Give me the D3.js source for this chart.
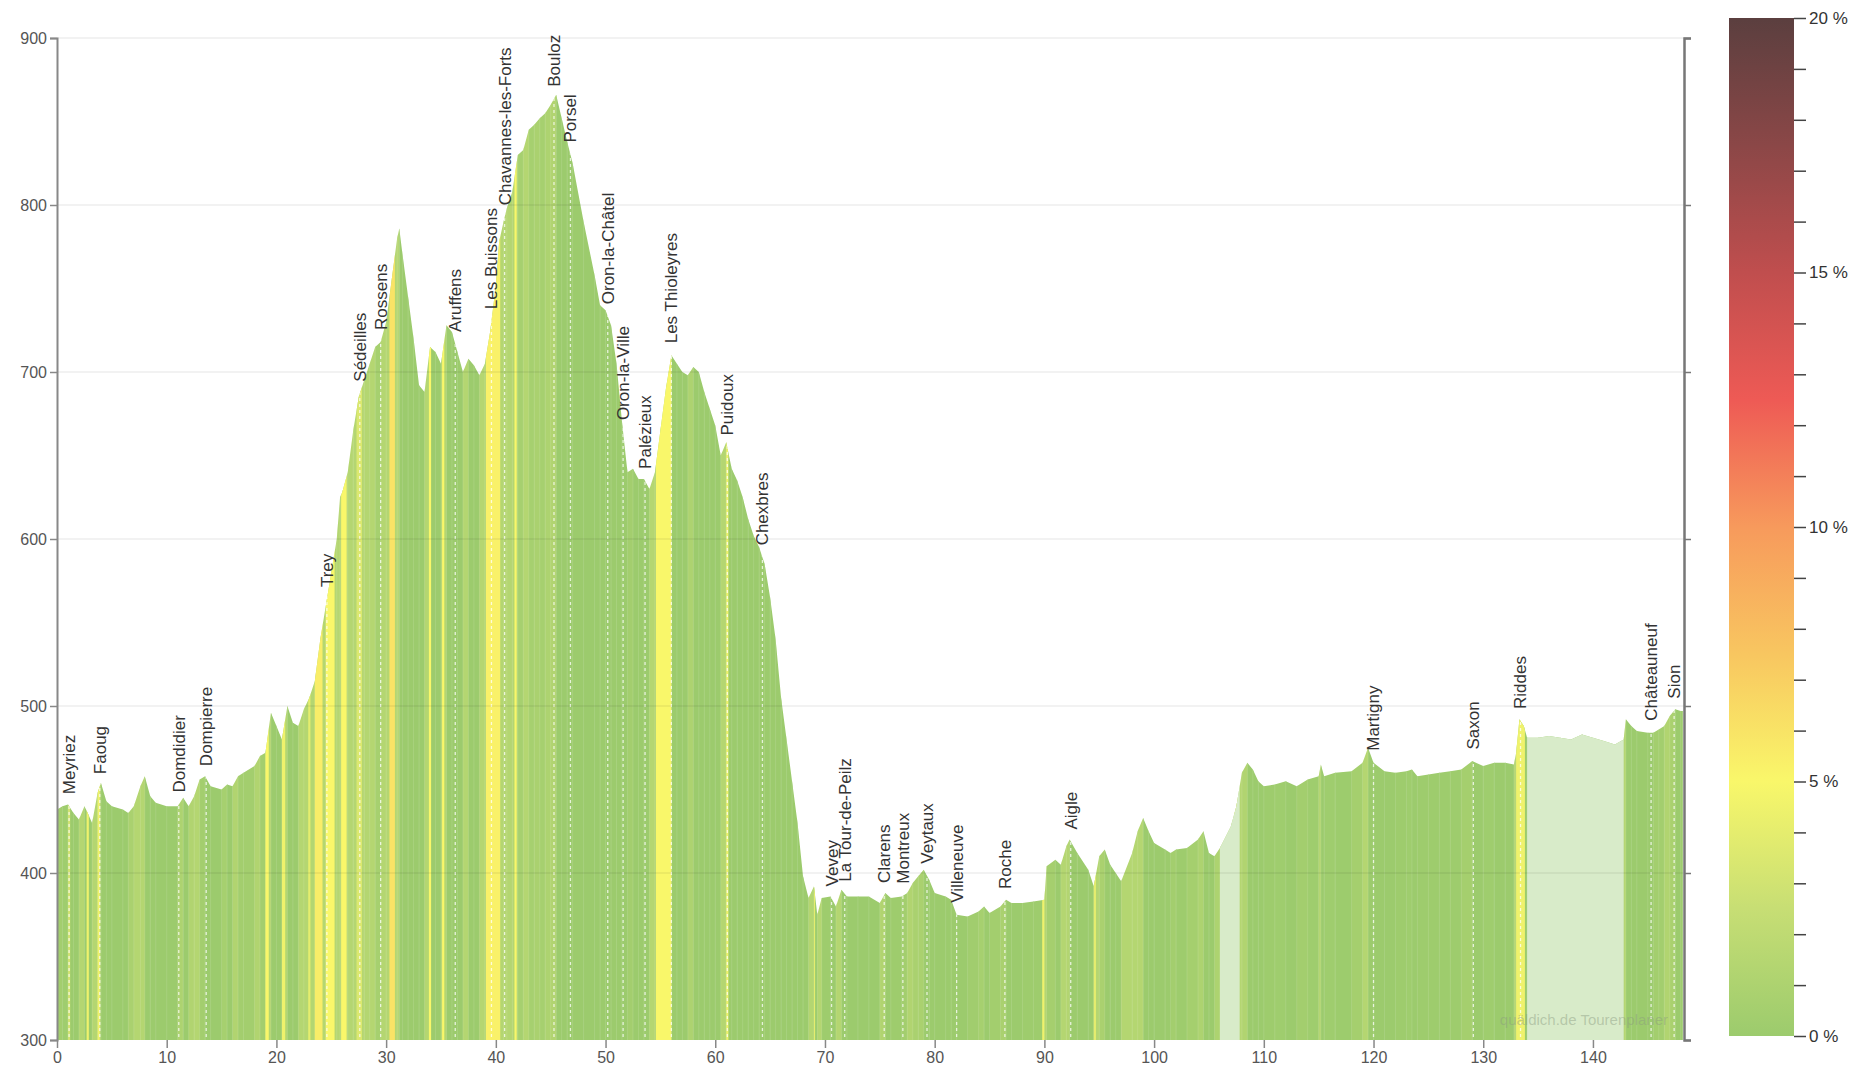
<html>
<head>
<meta charset="utf-8">
<script src="https://d3js.org/d3.v7.min.js"></script>
<style>
body { margin: 0; background: white; }
.tick text { font-family: "Liberation Sans", Arial, sans-serif; font-size: 16px; fill: #555; }
.place { font-family: "Liberation Sans", Arial, sans-serif; font-size: 17px; fill: #333; }
</style>
</head>
<body>
<svg id="chart" width="1856" height="1075"></svg>
<script>
// distance (km) and elevation (m)
var dist = [0,0.5,1,1.5,2,2.5,2.8,3.2,3.7,4,4.5,5,6,6.5,7,7.6,8,8.5,9,10,11,11.5,12,12.5,13,13.5,14,15,15.5,16,16.5,17,18,18.5,19,19.5,20,20.5,21,21.5,22,22.5,23,23.5,24,24.5,25,25.5,25.8,26,26.5,27,27.5,28,28.5,29,29.5,30,30.5,31,31.2,31.5,32,32.5,33,33.5,34,34.5,35,35.5,36,36.5,37,37.5,38,38.5,39,39.5,40,40.3,40.7,41,41.5,42,42.5,43,43.5,44,44.5,45,45.5,46,46.5,47,48,49,49.5,50,50.5,51,51.5,52,52.5,53,53.5,54,54.5,55,55.5,56,56.5,57,57.5,58,58.5,59,59.5,60,60.5,61,61.5,62,62.5,63,63.5,64,64.5,65,65.5,66,66.5,67,67.5,68,68.5,69,69.3,69.7,70.5,71,71.5,72,73,74,75,75.5,76,77,77.5,78,78.5,79,79.5,80,81,81.5,82,83,84,84.5,85,86,86.5,87,88,89,90,90.2,91,91.5,92,92.3,93,94,94.5,95,95.5,96,96.5,97,98,98.5,99,99.5,100,101,101.5,102,103,104,104.5,105,105.5,106,107,107.5,108,108.5,109,109.5,110,111,112,113,114,115,115.2,115.5,116.5,118,119,119.5,120,121,122,123,123.5,124,125,126,127,128,129,130,131,132,132.8,133,133.3,133.7,134,135,136,137,138,139,140,141,142,142.8,143,143.5,144,145,145.5,146,146.5,147,147.5,148,148.2];
var elev = [438,440,441,436,432,440,436,430,448,454,443,440,438,436,440,452,458,446,442,440,440,445,440,446,456,458,452,450,453,452,458,460,464,470,472,496,488,480,500,490,488,498,505,515,540,560,580,600,625,628,640,665,685,695,705,715,718,730,755,780,786,770,745,720,692,688,715,712,705,728,724,712,700,708,704,698,705,725,752,778,790,798,808,830,833,845,848,852,855,860,866,852,838,825,790,758,740,737,728,705,670,640,642,636,636,630,640,665,690,710,705,700,698,703,700,688,678,668,650,658,642,635,625,612,602,595,585,565,540,505,480,455,430,398,385,392,375,385,386,380,390,386,386,386,382,388,385,386,388,394,398,402,396,388,386,384,375,374,377,380,376,380,384,382,382,383,384,404,408,405,416,420,412,402,392,410,414,405,400,395,412,425,433,425,418,414,412,414,415,420,425,412,410,415,428,440,460,466,462,455,452,453,455,452,456,458,465,458,460,461,466,475,466,461,460,461,462,458,459,460,461,462,467,464,466,466,465,472,492,488,481,481,482,481,480,483,481,479,477,480,492,488,485,484,484,486,488,494,498,497,497];

// steeper stretches as coloured in the picture: [from km, to km, grade %]
var steepFrom  = [1.0,2.7,3.7,19.0,20.5,22.9,23.5,24.5,25.9,27.3,30.3,33.9,35.1,39.1,41.7,54.6,61.0,69.0,89.8,94.5,107.3,133.0];
var steepTo    = [1.2,2.9,3.9,19.3,20.8,23.1,24.2,25.3,26.4,27.8,30.8,34.1,35.3,40.4,41.9,56.0,61.2,69.1,90.0,94.7,107.6,133.8];
var steepGrade = [3.0,4.5,4.5,5.0,4.5,4.0,5.5,5.0,5.0,3.5,6.0,5.0,5.0,5.3,5.0,5.0,4.5,4.0,4.5,4.0,3.5,4.5];

// stretches without gradient data (drawn pale)
var gapFrom = [106.0, 134.0];
var gapTo   = [107.8, 142.8];

var places = ["Meyriez","Faoug","Domdidier","Dompierre","Trey","Sédeilles","Rossens","Aruffens","Les Buissons","Chavannes-les-Forts","Bouloz","Porsel","Oron-la-Châtel","Oron-la-Ville","Palézieux","Les Thioleyres","Puidoux","Chexbres","Vevey","La Tour-de-Peilz","Clarens","Montreux","Veytaux","Villeneuve","Roche","Aigle","Martigny","Saxon","Riddes","Châteauneuf","Sion"];
var placeKm = [1.1,3.9,11.1,13.6,24.6,27.6,29.5,36.3,39.6,40.8,45.3,46.8,50.2,51.6,53.6,56.0,61.1,64.3,70.6,71.8,75.4,77.1,79.3,82.0,86.4,92.4,120.0,129.1,133.4,145.3,147.4];

var elevTicks = [300,400,500,600,700,800,900];
var kmTicks = [0,10,20,30,40,50,60,70,80,90,100,110,120,130,140];
var gradeStops = [0,2.5,5,7.5,10,12.5,15,17.5,20];
var gradeColors = ['#9ccb6d','#c7de74','#f9f76a','#f8c660','#f79a5c','#ee5a55','#c04e4e','#8b4747','#5b3f3f'];
var gradeTicks = [0,1,2,3,4,5,6,7,8,9,10,11,12,13,14,15,16,17,18,19,20];

var svg = d3.select('#chart');
var x = d3.scaleLinear().domain([0,148.3]).range([57,1684]);
var y = d3.scaleLinear().domain([300,900]).range([1040,38]);
var colour = d3.scaleLinear().domain(gradeStops).range(gradeColors).clamp(true);

var pts = dist.map(function(d,i){ return {km:d, e:elev[i]}; });

var area = d3.area().x(function(d){return x(d.km)}).y0(y(300)).y1(function(d){return y(d.e)});

svg.append('defs').append('clipPath').attr('id','profileClip')
  .append('path').attr('d', area(pts));

var g = svg.append('g').attr('clip-path','url(#profileClip)');

// base slices coloured by the gentle gradient
var segs = d3.pairs(pts);
g.selectAll('rect.seg').data(segs).enter().append('rect')
  .attr('class','seg')
  .attr('x', function(d){return x(d[0].km)})
  .attr('width', function(d){return x(d[1].km)-x(d[0].km)+0.6})
  .attr('y', y(900)).attr('height', y(300)-y(900))
  .attr('fill', function(d){
     var s = (d[1].e-d[0].e)/((d[1].km-d[0].km)*1000)*100;
     return colour(Math.max(0, Math.min(1.4, s)));
  });

// thin slice seams
g.selectAll('line.seam').data(dist).enter().append('line')
  .attr('x1', function(d){return x(d)}).attr('x2', function(d){return x(d)})
  .attr('y1', y(900)).attr('y2', y(300))
  .attr('stroke','#ffffff').attr('stroke-opacity',0.12).attr('stroke-width',1);

// steep stretches
g.selectAll('rect.steep').data(steepFrom).enter().append('rect')
  .attr('x', function(d){return x(d)})
  .attr('width', function(d,i){return x(steepTo[i])-x(d)})
  .attr('y', y(900)).attr('height', y(300)-y(900))
  .attr('fill', function(d,i){return colour(steepGrade[i])});

// pale stretches
g.selectAll('rect.gap').data(gapFrom).enter().append('rect')
  .attr('x', function(d){return x(d)})
  .attr('width', function(d,i){return x(gapTo[i])-x(d)})
  .attr('y', y(900)).attr('height', y(300)-y(900))
  .attr('fill', '#d8ebc9');

// dotted place lines
g.selectAll('line.place').data(placeKm).enter().append('line')
  .attr('x1', function(d){return x(d)}).attr('x2', function(d){return x(d)})
  .attr('y1', y(900)).attr('y2', y(300))
  .attr('stroke','#ffffff').attr('stroke-opacity',0.75)
  .attr('stroke-width',1.3).attr('stroke-dasharray','3,3');

// grid lines
svg.append('g').selectAll('line').data(elevTicks.slice(1)).enter().append('line')
  .attr('x1', x(0)).attr('x2', x(148.3))
  .attr('y1', function(d){return y(d)}).attr('y2', function(d){return y(d)})
  .attr('stroke','#000').attr('stroke-opacity',0.07).attr('stroke-width',1.5);

// watermark
svg.append('text').attr('x', 1668).attr('y', 1025).attr('text-anchor','end')
  .style('font-family','Liberation Sans, Arial').style('font-size','15px')
  .attr('fill','#8a9a80').attr('fill-opacity',0.45)
  .text('quäldich.de Tourenplaner');

// axes
var leftAxis = svg.append('g').attr('transform','translate(57,0)')
  .call(d3.axisLeft(y).tickValues(elevTicks).tickSize(7).tickPadding(3));
leftAxis.select('.domain').attr('stroke','#888').attr('stroke-width',2);
leftAxis.selectAll('.tick line').attr('stroke','#888').attr('stroke-width',1.5);

var rightAxis = svg.append('g').attr('transform','translate(1684,0)')
  .call(d3.axisRight(y).tickValues(elevTicks).tickSize(7).tickFormat(''));
rightAxis.select('.domain').attr('stroke','#777').attr('stroke-width',2.5);
rightAxis.selectAll('.tick line').attr('stroke','#777').attr('stroke-width',1.5);

var bottomAxis = svg.append('g').attr('transform','translate(0,1040)')
  .call(d3.axisBottom(x).tickValues(kmTicks).tickSize(8).tickPadding(4));
bottomAxis.select('.domain').remove();
bottomAxis.selectAll('.tick line').attr('stroke','#888').attr('stroke-width',1.5);

// place labels
var elevAt = d3.scaleLinear().domain(dist).range(elev);
svg.append('g').selectAll('text').data(places).enter().append('text')
  .attr('class','place')
  .attr('transform', function(d,i){
     return 'translate(' + x(placeKm[i]) + ',' + (y(elevAt(placeKm[i])) - 12) + ') rotate(-90)';
  })
  .attr('dy','0.35em')
  .text(function(d){return d});

// gradient colour bar
var bar = d3.scaleLinear().domain([0,20]).range([1036,18]);
var grad = svg.select('defs').append('linearGradient').attr('id','gradeGrad')
  .attr('x1','0').attr('y1','1').attr('x2','0').attr('y2','0');
grad.selectAll('stop').data(gradeStops).enter().append('stop')
  .attr('offset', function(d){return d/20})
  .attr('stop-color', function(d,i){return gradeColors[i]});
svg.append('rect').attr('x',1729).attr('y',bar(20)).attr('width',65)
  .attr('height', bar(0)-bar(20)).attr('fill','url(#gradeGrad)');

var barAxis = svg.append('g').attr('transform','translate(1794,0)')
  .call(d3.axisRight(bar).tickValues(gradeTicks).tickSize(12).tickPadding(3)
        .tickFormat(function(d){ return d % 5 === 0 ? d + ' %' : ''; }));
barAxis.select('.domain').remove();
barAxis.selectAll('.tick line').attr('stroke','#444').attr('stroke-width',1.5);
barAxis.selectAll('.tick text').style('fill','#333').style('font-size','17px');
</script>
</body>
</html>
